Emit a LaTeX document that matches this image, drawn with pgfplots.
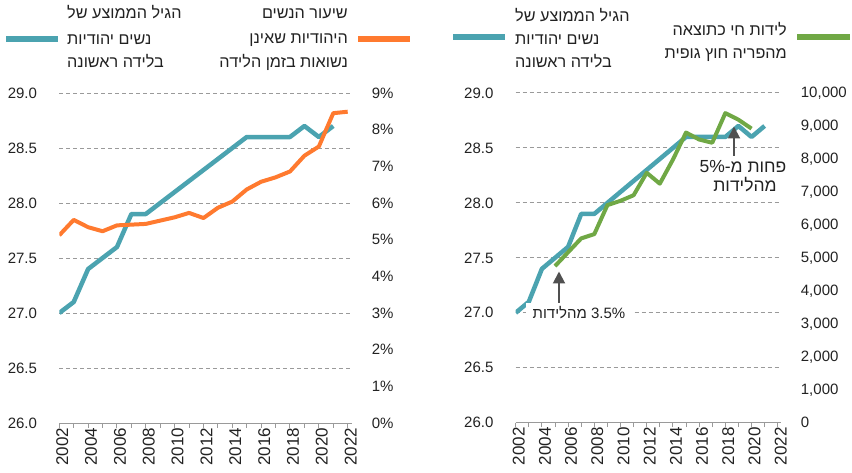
\documentclass[border=0pt]{standalone}
\usepackage{pgfplots}
\usepackage{pgfplotstable}
\pgfplotsset{compat=1.18}
\usetikzlibrary{arrows.meta}
\usepackage{fontspec}
\setmainfont{Liberation Sans}
\newfontfamily\hebfont[Script=Hebrew]{Liberation Sans}
\TeXXeTstate=1
\definecolor{cblue}{HTML}{4BA3B0}
\definecolor{corange}{HTML}{FF7A2F}
\definecolor{cgreen}{HTML}{70A845}
\definecolor{cgrid}{HTML}{9A9A9A}
\definecolor{carrow}{HTML}{505050}
\definecolor{ctext}{HTML}{222222}

\pgfplotstableread{
year age
2002 27.0
2003 27.1
2004 27.4
2005 27.5
2006 27.6
2007 27.9
2008 27.9
2009 28.0
2010 28.1
2011 28.2
2012 28.3
2013 28.4
2014 28.5
2015 28.6
2016 28.6
2017 28.6
2018 28.6
2019 28.7
2020 28.6
2021 28.7
}\agetable

\pgfplotstableread{
year pct
2002 5.12
2003 5.54
2004 5.34
2005 5.23
2006 5.39
2007 5.41
2008 5.43
2009 5.52
2010 5.61
2011 5.73
2012 5.59
2013 5.87
2014 6.04
2015 6.37
2016 6.58
2017 6.70
2018 6.86
2019 7.29
2020 7.54
2021 8.45
2022 8.49
}\pcttable

\pgfplotstableread{
year births
2005 4750
2006 5170
2007 5590
2008 5720
2009 6600
2010 6730
2011 6900
2012 7580
2013 7250
2014 7980
2015 8800
2016 8590
2017 8490
2018 9390
2019 9190
2020 8920
}\ivftable

\pgfplotsset{
  base/.style={
    scale only axis, xmin=2002,
    /pgf/number format/assume math mode=true,
    tick label style={font=\fontsize{15}{15}\selectfont, text=ctext},
    scaled y ticks=false,
  },
  leftax/.style={
    base,
    axis x line*=bottom, axis y line*=left,
    y axis line style={draw=none},
    x axis line style={cgrid, line width=1pt},
    xtick={2002,2004,...,2022}, minor xtick={2003,2005,...,2021},
    tick align=outside, major tick length=4.5pt, minor tick length=4.5pt,
    xtick style={cgrid, line width=1pt},
    minor x tick style={cgrid, line width=1pt},
    ymin=26, ymax=29, ytick={26,26.5,...,29.01},
    ytick style={draw=none},
    ymajorgrids, grid style={cgrid, line width=1pt, dash pattern=on 4pt off 3pt},
    yticklabel style={/pgf/number format/.cd, fixed, fixed zerofill, precision=1, /tikz/.cd, anchor=east, inner sep=0pt, xshift=-17.6pt},
    xticklabel style={/pgf/number format/.cd, 1000 sep={}, /tikz/.cd, rotate=90, anchor=east, inner sep=0pt, yshift=-3pt, font=\fontsize{17}{17}\selectfont},
  },
  rightax/.style={
    base,
    axis y line*=right, axis x line=none,
    y axis line style={draw=none},
    ytick style={draw=none},
    yticklabel style={anchor=west, inner sep=0pt, xshift=19.7pt},
  },
}

\newcommand{\heb}{\hebfont\fontsize{16.2}{18}\selectfont\color{ctext}}
\newcommand{\hebsmall}{\hebfont\fontsize{15}{18}\selectfont\color{ctext}}
\newcommand{\hebbig}{\hebfont\fontsize{17.5}{18}\selectfont\color{ctext}}

\begin{document}
\begin{tikzpicture}
\useasboundingbox (0pt,0pt) rectangle (852pt,-473pt);

% ---------------- left chart ----------------
\begin{axis}[leftax, at={(59.3pt,-423pt)}, anchor=south west,
  width=292.7pt, height=330pt, xmax=2022.3]
  \addplot[cblue, line width=4.5pt, line join=round] table[x=year, y=age] {\agetable};
\end{axis}
\begin{axis}[rightax, at={(59.3pt,-423pt)}, anchor=south west,
  width=292.7pt, height=330pt, xmax=2022.3,
  ymin=0, ymax=9, ytick={0,1,...,9},
  yticklabel={\pgfmathprintnumber{\tick}\%}]
  \addplot[corange, line width=4pt, line join=round] table[x=year, y=pct] {\pcttable};
\end{axis}

% ---------------- right chart ----------------
\begin{axis}[leftax, at={(515.7pt,-422.7pt)}, anchor=south west,
  width=265.3pt, height=329.7pt, xmax=2022.25]
  \addplot[cblue, line width=4.5pt, line join=round] table[x=year, y=age] {\agetable};
\end{axis}
\begin{axis}[rightax, at={(515.7pt,-422.7pt)}, anchor=south west,
  width=265.3pt, height=329.7pt, xmax=2022.25,
  ymin=0, ymax=10000, ytick={0,1000,...,10000},
  yticklabel style={/pgf/number format/.cd, 1000 sep={,}}]
  \addplot[cgreen, line width=4pt, line join=round] table[x=year, y=births] {\ivftable};
\end{axis}

% ---------------- legends ----------------
\draw[cblue, line width=6pt] (6pt,-39pt) -- (58pt,-39pt);
\node[anchor=base west, inner sep=0pt] at (67pt,-19pt) {\heb\beginR הגיל הממוצע של\endR};
\node[anchor=base west, inner sep=0pt] at (67pt,-44.5pt) {\heb\beginR נשים יהודיות\endR};
\node[anchor=base west, inner sep=0pt] at (67pt,-68pt) {\heb\beginR בלידה ראשונה\endR};

\draw[corange, line width=6pt] (358pt,-39pt) -- (410pt,-39pt);
\node[anchor=base east, inner sep=0pt] at (348pt,-18.5pt) {\heb\beginR שיעור הנשים\endR};
\node[anchor=base east, inner sep=0pt] at (348pt,-44pt) {\heb\beginR היהודיות שאינן\endR};
\node[anchor=base east, inner sep=0pt] at (348pt,-67.5pt) {\heb\beginR נשואות בזמן הלידה\endR};

\draw[cblue, line width=6pt] (453pt,-37pt) -- (505pt,-37pt);
\node[anchor=base west, inner sep=0pt] at (515pt,-21.5pt) {\heb\beginR הגיל הממוצע של\endR};
\node[anchor=base west, inner sep=0pt] at (515pt,-45pt) {\heb\beginR נשים יהודיות\endR};
\node[anchor=base west, inner sep=0pt] at (515pt,-68pt) {\heb\beginR בלידה ראשונה\endR};

\draw[cgreen, line width=6pt] (797pt,-37pt) -- (850pt,-37pt);
\node[anchor=base east, inner sep=0pt] at (787pt,-35.5pt) {\heb\beginR לידות חי כתוצאה\endR};
\node[anchor=base east, inner sep=0pt] at (787pt,-58.5pt) {\heb\beginR מהפריה חוץ גופית\endR};

% ---------------- annotations ----------------
\draw[carrow, line width=2pt, -{Triangle[width=12pt,length=12pt]}] (559pt,-303pt) -- (559pt,-271.5pt);
\node[fill=white, anchor=base, inner xsep=7pt, inner ysep=3pt] at (579pt,-318.5pt) {\hebsmall\beginR\beginL 3.5\%\endL{} מהלידות\endR};

\draw[carrow, line width=2pt, -{Triangle[width=12pt,length=12pt]}] (734pt,-156pt) -- (734pt,-126.5pt);
\node[anchor=base, inner sep=0pt] at (743pt,-173pt) {\hebbig\beginR פחות מ-\beginL 5\%\endL\endR};
\node[anchor=base, inner sep=0pt] at (745pt,-191.5pt) {\hebbig\beginR מהלידות\endR};
\end{tikzpicture}
\end{document}
